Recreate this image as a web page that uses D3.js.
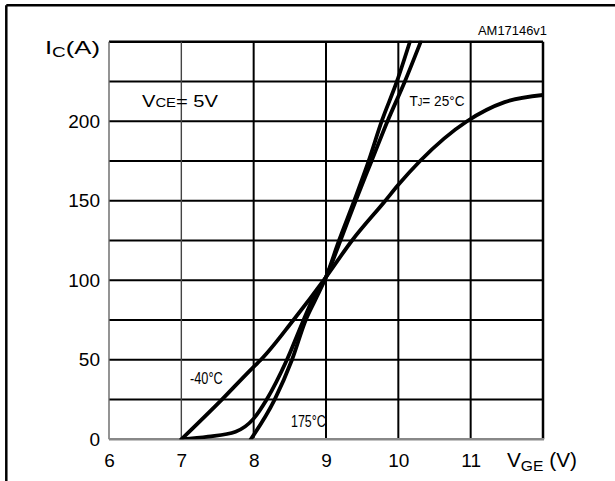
<!DOCTYPE html>
<html><head><meta charset="utf-8">
<script src="https://cdn.jsdelivr.net/npm/d3@7/dist/d3.min.js"></script>
<style>
html,body{margin:0;padding:0;background:#fff;}
text{font-family:"Liberation Sans",Arial,Helvetica,sans-serif;fill:#000;}
</style></head>
<body>
<svg id="c" width="615" height="481"></svg>
<script>
// ---- data ----
const xTicks = [6, 7, 8, 9, 10, 11];
const yTicks = [0, 50, 100, 150, 200];
const xGrid = [7, 8, 9, 10, 11, 12];
const yGrid = [25, 50, 75, 100, 125, 150, 175, 200, 225, 250];

// curve that rises almost linearly from 7 V and flattens (labelled TJ = 25°C)
const curve1X = [7, 7.56, 8, 8.1, 8.55, 9, 9.36, 9.82, 10, 10.3, 10.95, 11.47, 12];
const curve1Y = [0, 25, 45.6, 50, 75, 102, 125, 150, 160, 175, 200, 212, 216.5];
// curve with a flat foot from 7 V
const curve2X = [7, 7.37, 7.75, 8, 8.18, 8.46, 8.69, 8.81, 9, 9.2, 9.41, 9.63, 9.85, 10.09, 10.31];
const curve2Y = [0, 1.7, 4.8, 13, 25, 50, 75, 87.5, 102, 125, 150, 175, 200, 225, 250];
// curve starting at 8 V
const curve3X = [7.96, 8.29, 8.53, 8.72, 8.85, 9, 9.18, 9.39, 9.59, 9.77, 9.98, 10.16];
const curve3Y = [0, 25, 50, 75, 87.5, 102, 125, 150, 175, 200, 225, 250];

const series = [
  {x: curve1X, y: curve1Y},
  {x: curve2X, y: curve2Y},
  {x: curve3X, y: curve3Y}
];

// ---- drawing ----
const svg = d3.select("#c");
const x = d3.scaleLinear().domain([6, 12]).range([109, 543]);
const y = d3.scaleLinear().domain([0, 250]).range([439.3, 41.7]);

// outer frame (top and left edges visible)
svg.append("line").attr("x1", 6.3).attr("x2", 615).attr("y1", 5.3).attr("y2", 5.3)
  .attr("stroke", "#000").attr("stroke-width", 2.5);
svg.append("line").attr("x1", 6.3).attr("x2", 6.3).attr("y1", 5.3).attr("y2", 481)
  .attr("stroke", "#000").attr("stroke-width", 2.5);

// grid
const g = svg.append("g");
g.selectAll("line.hg").data(yGrid).join("line").attr("class", "hg")
  .attr("x1", x(6)).attr("x2", x(12)).attr("y1", d => y(d)).attr("y2", d => y(d))
  .attr("stroke", "#000").attr("stroke-width", d => d === 250 ? 2.5 : 2);
g.selectAll("line.vg").data(xGrid).join("line").attr("class", "vg")
  .attr("x1", d => x(d)).attr("x2", d => x(d)).attr("y1", y(0)).attr("y2", y(250))
  .attr("stroke", d => d === 7 ? "#444" : "#000")
  .attr("stroke-width", d => d === 7 ? 1.4 : (d === 12 ? 2.5 : 2));
// axis lines (grey)
g.append("line").attr("x1", x(6)).attr("x2", x(6)).attr("y1", y(0)).attr("y2", y(250))
  .attr("stroke", "#666").attr("stroke-width", 1.4);
g.append("line").attr("x1", x(6)).attr("x2", x(12) + 1).attr("y1", y(0)).attr("y2", y(0))
  .attr("stroke", "#888").attr("stroke-width", 2.6);

// axes labels via d3 axes
const ax = svg.append("g").attr("transform", `translate(0,${y(0)})`)
  .call(d3.axisBottom(x).tickValues(xTicks).tickSize(0).tickPadding(14).tickFormat(d3.format("d")));
ax.select(".domain").remove();
ax.selectAll("text").attr("font-size", 19).style("font-family", '"Liberation Sans",Arial,sans-serif').attr("fill", "#000");

const ay = svg.append("g").attr("transform", `translate(${x(6)},0)`)
  .call(d3.axisLeft(y).tickValues(yTicks).tickSize(0).tickPadding(9).tickFormat(d3.format("d")));
ay.select(".domain").remove();
ay.selectAll("text").attr("font-size", 19).style("font-family", '"Liberation Sans",Arial,sans-serif').attr("fill", "#000");

// curves
svg.append("clipPath").attr("id", "clip").append("rect")
  .attr("x", x(6)).attr("y", y(250) - 1).attr("width", x(12) - x(6)).attr("height", y(0) - y(250) + 1);
const line = d3.line().x(d => x(d[0])).y(d => y(d[1])).curve(d3.curveMonotoneX);
svg.append("g").attr("clip-path", "url(#clip)")
  .selectAll("path").data(series).join("path")
  .attr("d", s => line(s.x.map((v, i) => [v, s.y[i]])))
  .attr("fill", "none").attr("stroke", "#000").attr("stroke-width", 3.8)
  .attr("stroke-linecap", "round");

// titles
const ic = svg.append("text").attr("x", 45).attr("y", 53.5).attr("font-size", 19)
  .attr("textLength", 55).attr("lengthAdjust", "spacingAndGlyphs");
ic.append("tspan").text("I");
ic.append("tspan").attr("font-size", 14).attr("dy", 3).text("C");
ic.append("tspan").attr("dy", -3).text("(A)");

const vge = svg.append("text").attr("x", 507).attr("y", 466.5).attr("font-size", 20)
  .attr("textLength", 70).attr("lengthAdjust", "spacingAndGlyphs");
vge.append("tspan").text("V");
vge.append("tspan").attr("font-size", 15).attr("dy", 4).text("GE");
vge.append("tspan").attr("dy", -4).text(" (V)");

svg.append("text").attr("x", 478).attr("y", 35).attr("font-size", 13)
  .attr("textLength", 69).attr("lengthAdjust", "spacingAndGlyphs").text("AM17146v1");

const vce = svg.append("text").attr("x", 142).attr("y", 106.7).attr("font-size", 17)
  .attr("textLength", 76).attr("lengthAdjust", "spacingAndGlyphs");
vce.append("tspan").text("V");
vce.append("tspan").attr("font-size", 12.5).text("CE");
vce.append("tspan").text("= 5V");

const tj = svg.append("text").attr("x", 409.5).attr("y", 106).attr("font-size", 15)
  .attr("textLength", 55).attr("lengthAdjust", "spacingAndGlyphs");
tj.append("tspan").text("T");
tj.append("tspan").attr("font-size", 10).text("J");
tj.append("tspan").text("= 25°C");

svg.append("text").attr("x", 190).attr("y", 384).attr("font-size", 16)
  .attr("textLength", 32.7).attr("lengthAdjust", "spacingAndGlyphs").text("-40°C");
svg.append("text").attr("x", 291).attr("y", 427.3).attr("font-size", 16)
  .attr("textLength", 34.7).attr("lengthAdjust", "spacingAndGlyphs").text("175°C");
</script>
</body></html>
